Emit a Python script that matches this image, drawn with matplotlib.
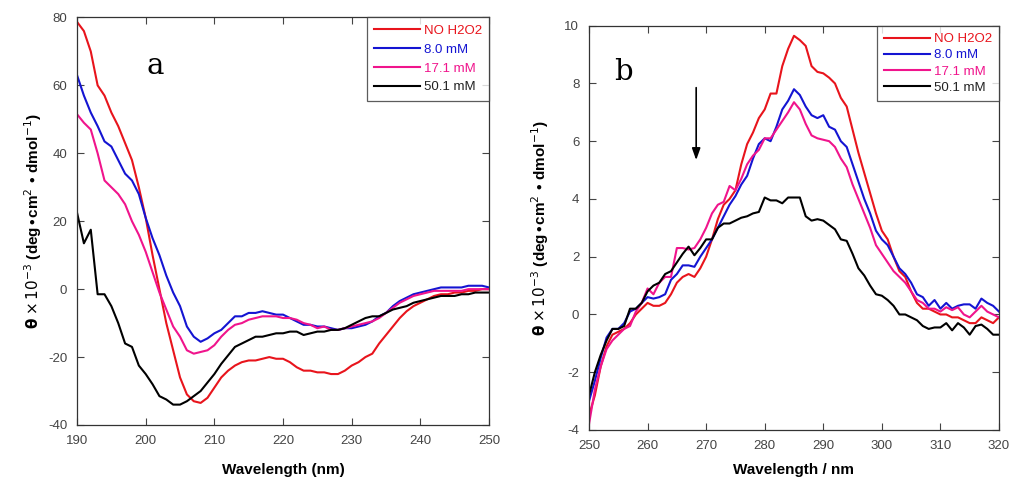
import numpy as np
import matplotlib.pyplot as plt

plt.rcParams['font.family'] = ['Liberation Sans', 'DejaVu Sans']
plt.rcParams['axes.unicode_minus'] = False

# ---- panel a: far-UV CD, 190-250 nm ----
wl_a = np.arange(190, 251)
a_none = [78.7, 76, 70, 60, 57, 52, 48, 43, 38, 30,
          21, 10, 0, -10, -18, -26, -31, -33, -33.5, -32,
          -29, -26, -24, -22.5, -21.5, -21, -21, -20.5, -20, -20.5,
          -20.5, -21.5, -23, -24, -24, -24.5, -24.5, -25, -25, -24,
          -22.5, -21.5, -20, -19, -16, -13.5, -11, -8.5, -6.5, -5,
          -4, -3, -2, -1.5, -1.5, -1, -1, -0.5, -0.5, 0, 0]
a_8 = [63, 57, 52, 48, 43.5, 42, 38, 34, 32, 28,
       21, 15, 10, 4, -1, -5, -11, -14, -15.5, -14.5,
       -13, -12, -10, -8, -8, -7, -7, -6.5, -7, -7.5,
       -7.5, -8.5, -9.5, -10.5, -10.5, -11, -11, -11.5, -12, -11.5,
       -11.5, -11, -10.5, -9.5, -8, -7, -5, -3.5, -2.5, -1.5,
       -1, -0.5, 0, 0.5, 0.5, 0.5, 0.5, 1, 1, 1, 0.5]
a_17 = [51.5, 49, 47, 40, 32, 30, 28, 25, 20, 16,
        11, 5, -1, -6, -11, -14, -18, -19, -18.5, -18,
        -16.5, -14, -12, -10.5, -10, -9, -8.5, -8, -8, -8,
        -8.5, -8.5, -9, -10, -10.5, -11.5, -11, -12, -12, -11.5,
        -11, -10.5, -10, -9.5, -8.5, -7, -5.5, -4, -3, -2,
        -1.5, -1, -0.5, -0.5, -0.5, -0.5, -0.5, 0, 0, 0, 0]
a_50 = [22.5, 13.5, 17.5, -1.5, -1.5, -5, -10, -16, -17, -22.5,
        -25, -28, -31.5, -32.5, -34, -34, -33, -31.5, -30, -27.5,
        -25, -22, -19.5, -17, -16, -15, -14, -14, -13.5, -13,
        -13, -12.5, -12.5, -13.5, -13, -12.5, -12.5, -12, -12, -11.5,
        -10.5, -9.5, -8.5, -8, -8, -7, -6, -5.5, -5, -4,
        -3.5, -3, -2.5, -2, -2, -2, -1.5, -1.5, -1, -1, -1]

# ---- panel b: near-UV CD, 250-320 nm ----
wl_b = np.arange(250, 321)
b_none = [-3.5, -2.8, -1.8, -1.1, -0.7, -0.6, -0.5, -0.3, 0, 0.2,
          0.4, 0.3, 0.3, 0.4, 0.7, 1.1, 1.3, 1.4, 1.3, 1.6,
          2.0, 2.6, 3.3, 3.8, 4.0, 4.3, 5.2, 5.9, 6.3, 6.8,
          7.1, 7.65, 7.65, 8.6, 9.2, 9.65, 9.5, 9.3, 8.6, 8.4,
          8.35, 8.2, 8.0, 7.5, 7.2, 6.4, 5.6, 4.9, 4.2, 3.5,
          2.9, 2.6, 2.0, 1.5, 1.3, 0.8, 0.4, 0.2, 0.2, 0.1,
          0.0, 0.0, -0.1, -0.1, -0.2, -0.3, -0.3, -0.1, -0.2, -0.3, -0.1]
b_8 = [-3.0, -2.3, -1.5, -0.8, -0.5, -0.5, -0.3, 0.1, 0.2, 0.4,
       0.6, 0.55, 0.6, 0.7, 1.2, 1.4, 1.7, 1.7, 1.65, 2.0,
       2.3, 2.6, 3.0, 3.4, 3.8, 4.1, 4.5, 4.8, 5.4, 5.9,
       6.1, 6.0, 6.5, 7.1, 7.4, 7.8, 7.6, 7.2, 6.9, 6.8,
       6.9, 6.5, 6.4, 6.0, 5.8, 5.2, 4.6, 4.0, 3.5, 2.9,
       2.6, 2.4, 2.0, 1.6, 1.4, 1.1, 0.7, 0.6, 0.3, 0.5,
       0.2, 0.4, 0.2, 0.3, 0.35, 0.35, 0.2, 0.55, 0.4, 0.3, 0.1]
b_17 = [-3.8, -2.6, -1.8, -1.2, -0.9, -0.7, -0.5, -0.4, 0.1, 0.4,
        0.9, 0.7, 1.1, 1.3, 1.3, 2.3, 2.3, 2.25, 2.3, 2.6,
        3.0, 3.5, 3.8, 3.9, 4.45, 4.3, 4.7, 5.2, 5.5, 5.7,
        6.1, 6.1, 6.4, 6.7, 7.0, 7.35, 7.1, 6.6, 6.2, 6.1,
        6.05, 6.0, 5.8, 5.4, 5.1, 4.5, 4.0, 3.5, 3.0, 2.4,
        2.1, 1.8, 1.5, 1.3, 1.1, 0.8, 0.5, 0.4, 0.2, 0.2,
        0.1, 0.25, 0.15, 0.25, 0.0, -0.1, 0.1, 0.3, 0.1, 0.0, -0.1]
b_50 = [-2.8, -2.0, -1.4, -0.9, -0.5, -0.5, -0.4, 0.2, 0.2, 0.4,
        0.8, 1.0, 1.1, 1.4, 1.5, 1.8, 2.1, 2.35, 2.05, 2.3,
        2.6, 2.6, 3.0, 3.15, 3.15, 3.25, 3.35, 3.4, 3.5, 3.55,
        4.05, 3.95, 3.95, 3.85, 4.05, 4.05, 4.05, 3.4, 3.25, 3.3,
        3.25, 3.1, 2.95, 2.6, 2.55, 2.1, 1.6, 1.35, 1.0, 0.7,
        0.65, 0.5, 0.3, 0.0, 0.0, -0.1, -0.2, -0.4, -0.5, -0.45,
        -0.45, -0.3, -0.55, -0.3, -0.45, -0.7, -0.4, -0.35, -0.5, -0.7, -0.7]

labels = ['NO H2O2', '8.0 mM', '17.1 mM', '50.1 mM']
colors = ['#e8141c', '#1414d2', '#f0148c', '#000000']

ylab = r'$\mathbf{\theta}$ $\times\,10^{-3}$ (deg$\bullet$cm$^{2}\bullet$dmol$^{-1}$)'

fig = plt.figure(figsize=(10.11, 4.8), dpi=100)
ax1 = fig.add_axes([0.0762, 0.1146, 0.4075, 0.849])
ax2 = fig.add_axes([0.5826, 0.1042, 0.4055, 0.8423])


def style_axes(ax):
    ax.tick_params(direction='in', top=True, right=True, length=5,
                   labelsize=9.5, labelcolor='#444444', color='#444444', pad=7)
    for s in ax.spines.values():
        s.set_color('#333333')
        s.set_linewidth(0.9)


for ys, c, lab in zip([a_none, a_8, a_17, a_50], colors, labels):
    ax1.plot(wl_a, ys, color=c, lw=1.5, label=lab)
ax1.set_xlim(190, 250)
ax1.set_ylim(-40, 80)
ax1.set_xticks(range(190, 251, 10))
ax1.set_yticks(range(-40, 81, 20))
style_axes(ax1)
ax1.set_ylabel(ylab, fontsize=11, fontweight='bold', labelpad=3)
ax1.text(0.19, 0.88, 'a', transform=ax1.transAxes, fontsize=21,
         family='DejaVu Serif', ha='center', va='center')
fig.text(0.28, 0.02, 'Wavelength (nm)', fontsize=11, fontweight='bold',
         ha='center', va='center')

for ys, c, lab in zip([b_none, b_8, b_17, b_50], colors, labels):
    ax2.plot(wl_b, ys, color=c, lw=1.5, label=lab)
ax2.set_xlim(250, 320)
ax2.set_ylim(-4, 10)
ax2.set_xticks(range(250, 321, 10))
ax2.set_yticks(range(-4, 11, 2))
style_axes(ax2)
ax2.set_ylabel(ylab, fontsize=11, fontweight='bold', labelpad=10)
ax2.text(0.085, 0.885, 'b', transform=ax2.transAxes, fontsize=21,
         family='DejaVu Serif', ha='center', va='center')
fig.text(0.785, 0.02, 'Wavelength / nm', fontsize=11, fontweight='bold',
         ha='center', va='center')
ax2.annotate('', xy=(268.3, 5.25), xytext=(268.3, 7.95),
             arrowprops=dict(arrowstyle='-|>,head_width=0.25,head_length=0.7',
                             color='black', lw=1.2, mutation_scale=10))

for ax, lsp in ((ax1, 0.5), (ax2, 0.3)):
    leg = ax.legend(loc='upper right', fontsize=9.5, frameon=True, fancybox=False,
                    borderaxespad=0, handlelength=3.5, handletextpad=0.25,
                    labelspacing=lsp, borderpad=0.55)
    leg.get_frame().set_edgecolor('#333333')
    leg.get_frame().set_linewidth(0.9)
    for txt, c in zip(leg.get_texts(), colors):
        txt.set_color(c if c != '#000000' else '#222222')

fig.savefig('out.png', dpi=100)
